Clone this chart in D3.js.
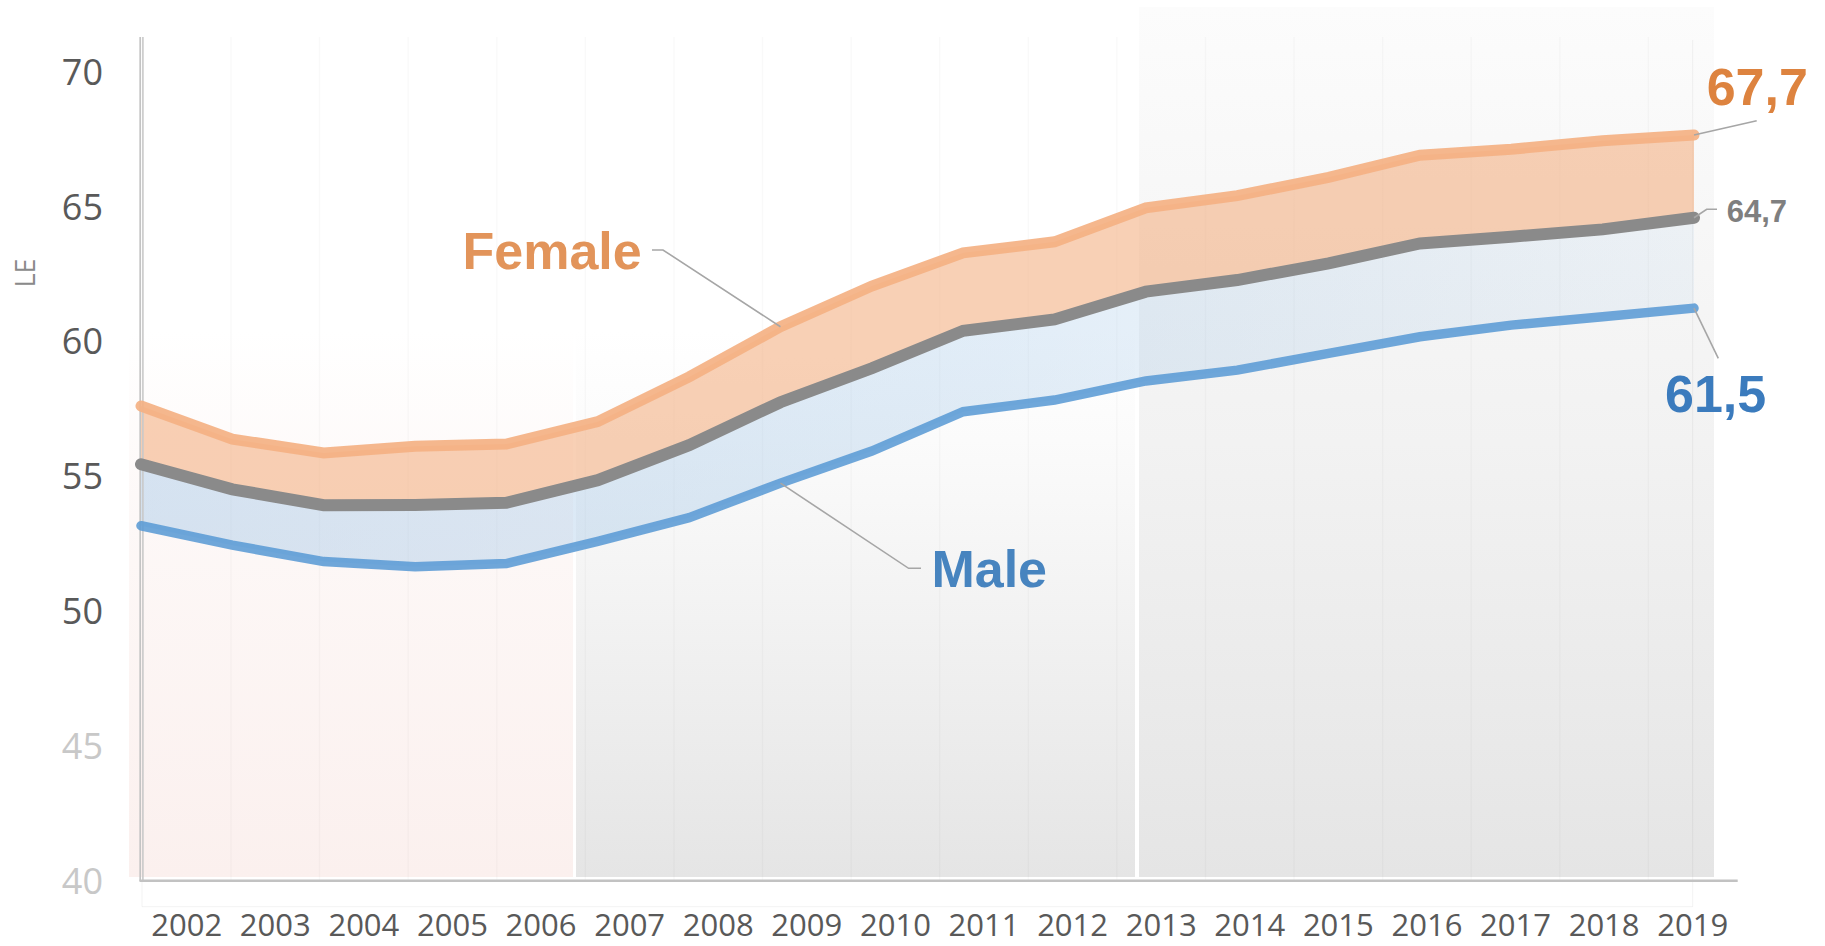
<!DOCTYPE html>
<html>
<head>
<meta charset="utf-8">
<script src="https://cdn.jsdelivr.net/npm/d3@7"></script>
<style>
	body { margin: 0; background: #ffffff; }
	svg { display: block; }
</style>
</head>
<body>
<div id="chart"></div>
<script>
// Life expectancy values
const years = [2002, 2003, 2004, 2005, 2006, 2007, 2008, 2009, 2010, 2011, 2012, 2013, 2014, 2015, 2016, 2017, 2018, 2019];
const female = [57.64, 56.41, 55.90, 56.15, 56.23, 57.06, 58.72, 60.58, 62.09, 63.32, 63.73, 64.99, 65.44, 66.12, 66.94, 67.16, 67.48, 67.69];
const total = [55.48, 54.55, 53.96, 53.97, 54.05, 54.89, 56.19, 57.78, 59.04, 60.43, 60.85, 61.88, 62.31, 62.93, 63.67, 63.92, 64.19, 64.62];
const male = [53.20, 52.48, 51.87, 51.68, 51.80, 52.62, 53.50, 54.78, 55.97, 57.43, 57.86, 58.57, 58.97, 59.59, 60.21, 60.64, 60.95, 61.27];
const yTicks = [40, 45, 50, 55, 60, 65, 70];
const endLabels = ["67,7", "64,7", "61,5"];
const seriesNames = ["Female", "Male"];

const width = 1825, height = 946;

const svg = d3.select("#chart").append("svg")
	.attr("width", width)
	.attr("height", height);

const y = d3.scaleLinear().domain([40, 70]).range([881.7, 72.7]);
const xPt = d3.scalePoint().domain(years).range([141, 1694]);     // where the lines sit
const xBand = d3.scaleBand().domain(years).range([142.4, 1737]);  // where the year labels sit

const rows = years.map((yr, i) => ({ year: yr, f: female[i], t: total[i], m: male[i] }));

const defs = svg.append("defs");

function vGrad(id, stops)
{
	const g = defs.append("linearGradient").attr("id", id)
		.attr("x1", 0).attr("y1", 0).attr("x2", 0).attr("y2", 1);
	stops.forEach(s => g.append("stop").attr("offset", s[0]).attr("stop-color", s[1]));
}
vGrad("gLeft", [[0, "#ffffff"], [0.35, "#fdf8f7"], [1, "#fbf0ee"]]);
vGrad("gMid", [[0, "#ffffff"], [0.2, "#fbfbfb"], [1, "#e5e5e5"]]);
vGrad("gRight", [[0, "#fcfcfc"], [0.5, "#f2f2f2"], [1, "#e5e5e5"]]);

const blueGrad = defs.append("linearGradient").attr("id", "gBlue")
	.attr("gradientUnits", "userSpaceOnUse")
	.attr("x1", xPt(2002)).attr("x2", xPt(2019)).attr("y1", 0).attr("y2", 0);
blueGrad.append("stop").attr("offset", 0).attr("stop-color", "#9dc3e6").attr("stop-opacity", 0.42);
blueGrad.append("stop").attr("offset", 0.55).attr("stop-color", "#9dc3e6").attr("stop-opacity", 0.3);
blueGrad.append("stop").attr("offset", 1).attr("stop-color", "#9dc3e6").attr("stop-opacity", 0.12);

// background period panels
svg.append("rect").attr("x", 129).attr("y", 330).attr("width", 444).attr("height", 547).attr("fill", "url(#gLeft)");
svg.append("rect").attr("x", 576).attr("y", 330).attr("width", 559).attr("height", 547).attr("fill", "url(#gMid)");
svg.append("rect").attr("x", 1139).attr("y", 7).attr("width", 575).attr("height", 870).attr("fill", "url(#gRight)");

// faint column lines
svg.append("g").selectAll("line").data(years.slice(1)).enter().append("line")
	.attr("x1", d => xBand(d)).attr("x2", d => xBand(d))
	.attr("y1", 37).attr("y2", 881)
	.attr("stroke", "#000").attr("stroke-opacity", 0.025).attr("stroke-width", 1.5);

// faint outer frame under the axis
svg.append("path")
	.attr("d", `M142,881V906.7H1692.7V40`)
	.attr("fill", "none").attr("stroke", "#000").attr("stroke-opacity", 0.05);

// bands between the lines
svg.append("path").datum(rows)
	.attr("fill", "#f4b183").attr("fill-opacity", 0.6)
	.attr("d", d3.area().x(d => xPt(d.year)).y0(d => y(d.t)).y1(d => y(d.f)));

svg.append("path").datum(rows)
	.attr("fill", "url(#gBlue)")
	.attr("d", d3.area().x(d => xPt(d.year)).y0(d => y(d.m)).y1(d => y(d.t)));

// axes lines
svg.append("line").attr("x1", 140.2).attr("x2", 140.2).attr("y1", 37).attr("y2", 881)
	.attr("stroke", "#c4c4c4").attr("stroke-width", 1.7);
svg.append("line").attr("x1", 142.9).attr("x2", 142.9).attr("y1", 37).attr("y2", 881)
	.attr("stroke", "#c9c9c9").attr("stroke-width", 1.6);
svg.append("line").attr("x1", 139.5).attr("x2", 1737.7).attr("y1", 880.7).attr("y2", 880.7)
	.attr("stroke", "#c2c2c2").attr("stroke-width", 2.5);

// series lines
const lineOf = key => d3.line().x(d => xPt(d.year)).y(d => y(d[key]));
[["m", "#5b9bd5", 0.88, 9.5], ["t", "#8a8a8a", 1, 12], ["f", "#f4b183", 0.92, 11]].forEach(s =>
{
	svg.append("path").datum(rows)
		.attr("fill", "none")
		.attr("stroke", s[1]).attr("stroke-opacity", s[2]).attr("stroke-width", s[3])
		.attr("stroke-linecap", "round").attr("stroke-linejoin", "miter")
		.attr("d", lineOf(s[0]));
});

// y axis
const yAxis = svg.append("g").attr("transform", "translate(141,0)")
	.call(d3.axisLeft(y).tickValues(yTicks).tickSize(0).tickPadding(38));
yAxis.select(".domain").remove();
yAxis.selectAll("text")
	.style("font-family", "'Open Sans', sans-serif")
	.style("font-size", "36px")
	.attr("fill", d => d <= 45 ? "#c8c8c8" : "#595959");

svg.append("text")
	.attr("transform", "translate(35,273) rotate(-90)")
	.attr("text-anchor", "middle")
	.style("font-family", "'Open Sans', sans-serif")
	.style("font-size", "27px")
	.attr("fill", "#8a8a8a")
	.text("LE");

// x axis (labels kept clear of the bottom edge)
const xAxis = svg.append("g").attr("transform", "translate(0,881)")
	.call(d3.axisBottom(xBand).tickSize(0).tickPadding(33));
xAxis.select(".domain").remove();
xAxis.selectAll("text")
	.style("font-family", "'Open Sans', sans-serif")
	.style("font-size", "31px")
	.attr("fill", "#595959");

// leader lines
const last = rows[rows.length - 1];
const i09 = years.indexOf(2009);
const leaders = [
	[[652, 250], [663, 250], [xPt(2009), y(female[i09])]],
	[[921, 568.3], [908.6, 568.3], [xPt(2009), y(male[i09])]],
	[[xPt(2019), y(last.f)], [1756.7, 120.7]],
	[[xPt(2019), y(last.t)], [1706.7, 209.3], [1717, 209.3]],
	[[xPt(2019), y(last.m)], [1718.3, 358.3]]
];
svg.append("g").selectAll("path").data(leaders).enter().append("path")
	.attr("d", d => d3.line()(d))
	.attr("fill", "none").attr("stroke", "#a6a6a6").attr("stroke-width", 1.6);

// labels
const bold = "'Liberation Sans', Arial, sans-serif";
function label(x, yy, txt, size, color)
{
	svg.append("text").attr("x", x).attr("y", yy)
		.style("font-family", bold).style("font-weight", "bold").style("font-size", size + "px")
		.attr("fill", color).text(txt);
}
label(462.5, 269.3, seriesNames[0], 52, "#e2945a");
label(931.4, 587.3, seriesNames[1], 52, "#4784bf");
label(1706.7, 105, endLabels[0], 52, "#dd833f");
label(1726.7, 221.7, endLabels[1], 31, "#7f7f7f");
label(1665, 412, endLabels[2], 52, "#3b7bbd");
</script>
</body>
</html>
